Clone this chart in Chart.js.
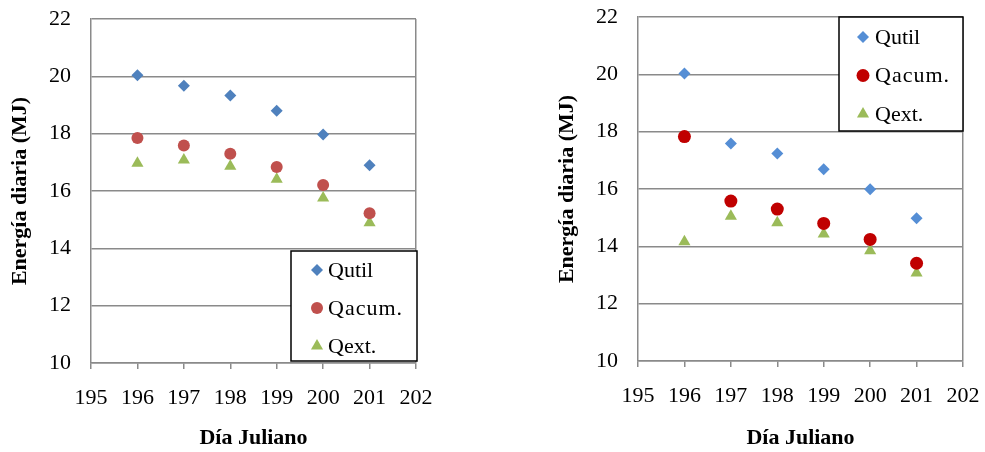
<!DOCTYPE html>
<html><head><meta charset="utf-8">
<script src="https://cdn.jsdelivr.net/npm/chart.js@4/dist/chart.umd.min.js"></script>
<style>
html,body{margin:0;padding:0;background:#fff;}
#wrap{position:relative;width:985px;height:452px;overflow:hidden;}
#c1{position:absolute;left:0;top:0;}
#c2{position:absolute;left:540px;top:0;}
</style></head><body>
<div id="wrap">
<canvas id="c1" width="440" height="452"></canvas>
<canvas id="c2" width="445" height="452"></canvas>
</div>
<script>
// ---- data ----
const days = [196, 197, 198, 199, 200, 201];
const xTickValues = [195, 196, 197, 198, 199, 200, 201, 202];
const yTickValues = [10, 12, 14, 16, 18, 20, 22];
const seriesNames = ['Qutil', 'Qacum.', 'Qext.'];
const xTitle = 'Día Juliano';
const yTitle = 'Energía diaria (MJ)';

const leftQutil = [20.04, 19.67, 19.33, 18.80, 17.97, 16.90];
const leftQacum = [17.85, 17.59, 17.30, 16.84, 16.21, 15.22];
const leftQext  = [16.97, 17.08, 16.86, 16.41, 15.76, 14.89];

const rightQutil = [20.03, 17.59, 17.24, 16.69, 15.99, 14.98];
const rightQacum = [17.83, 15.58, 15.30, 14.80, 14.24, 13.41];
const rightQext  = [14.16, 15.05, 14.82, 14.43, 13.85, 13.07];

// ---- helpers ----
const SERIF = '"Liberation Serif", "Times New Roman", serif';
const GRID = '#8a8a8a';

function pts(vals) { return days.map((d, i) => ({ x: d, y: vals[i] })); }

const boxLegend = {
  id: 'boxLegend',
  afterDraw(chart, args, o) {
    const ctx = chart.ctx, ca = chart.chartArea;
    const left = ca.right + o.dx - o.w;
    const top = o.corner === 'br' ? ca.bottom + o.dy - o.h : ca.top + o.dy;
    ctx.save();
    ctx.fillStyle = '#fff';
    ctx.fillRect(left, top, o.w, o.h);
    ctx.strokeStyle = '#000';
    ctx.lineWidth = 1.5;
    ctx.strokeRect(left, top, o.w, o.h);
    ctx.font = '22px ' + SERIF;
    ctx.textBaseline = 'middle';
    ctx.textAlign = 'left';
    chart.data.datasets.forEach((ds, i) => {
      const y = top + o.y0 + i * o.gap;
      const x = left + o.mx;
      ctx.fillStyle = ds.pointBackgroundColor;
      ctx.beginPath();
      const r = o.r[i];
      if (ds.pointStyle === 'rectRot') {
        ctx.moveTo(x, y - r); ctx.lineTo(x + r, y); ctx.lineTo(x, y + r); ctx.lineTo(x - r, y); ctx.closePath();
      } else if (ds.pointStyle === 'circle') {
        ctx.arc(x, y, r, 0, Math.PI * 2);
      } else {
        ctx.moveTo(x, y - r); ctx.lineTo(x + r * 0.866, y + r * 0.5); ctx.lineTo(x - r * 0.866, y + r * 0.5); ctx.closePath();
      }
      ctx.fill();
      ctx.fillStyle = '#000';
      try { ctx.letterSpacing = (i === 1) ? '1px' : '0px'; } catch (e) {}
      ctx.fillText(ds.label, left + o.tx, y + 1);
      try { ctx.letterSpacing = '0px'; } catch (e) {}
    });
    ctx.restore();
  }
};

function makeChart(id, vals, colors, radii, geo, legendOpts) {
  const styles = ['rectRot', 'circle', 'triangle'];
  return new Chart(document.getElementById(id), {
    type: 'scatter',
    data: {
      datasets: seriesNames.map((name, i) => ({
        label: name,
        data: pts(vals[i]),
        pointStyle: styles[i],
        pointRadius: radii[i],
        pointHoverRadius: radii[i],
        pointBackgroundColor: colors[i],
        pointBorderColor: colors[i],
        pointBorderWidth: 0,
        backgroundColor: colors[i],
        borderColor: colors[i],
        showLine: false
      }))
    },
    options: {
      responsive: false,
      devicePixelRatio: 1,
      animation: false,
      layout: { padding: { top: geo.top, right: geo.right, bottom: 0, left: 0 } },
      plugins: {
        legend: { display: false },
        tooltip: { enabled: false },
        boxLegend: legendOpts
      },
      scales: {
        x: {
          type: 'linear',
          min: 195, max: 202,
          afterBuildTicks: s => { s.ticks = xTickValues.map(v => ({ value: v })); },
          afterFit: s => { s.height = geo.xh; s.paddingLeft = 0; s.paddingRight = 0; s.paddingTop = 0; s.paddingBottom = 0; },
          border: { display: true, color: GRID, width: 1.5 },
          grid: {
            drawOnChartArea: true,
            color: c => (c.tick && c.tick.value === 202) ? GRID : 'rgba(0,0,0,0)',
            tickColor: GRID,
            tickLength: 6,
            lineWidth: 1.5
          },
          ticks: { color: '#000', font: { family: SERIF, size: 22 }, padding: 16, maxRotation: 0, autoSkip: false },
          title: { display: true, text: xTitle, color: '#000', font: { family: SERIF, size: 22, weight: 'bold' }, padding: { top: 0, bottom: 0 } }
        },
        y: {
          type: 'linear',
          min: 10, max: 22,
          afterBuildTicks: s => { s.ticks = yTickValues.map(v => ({ value: v })); },
          afterFit: s => { s.width = geo.yw; s.paddingLeft = 0; s.paddingRight = 0; s.paddingTop = 0; s.paddingBottom = 0; },
          border: { display: true, color: GRID, width: 1.5 },
          grid: { color: GRID, lineWidth: 1.5, drawTicks: false },
          ticks: { color: '#000', font: { family: SERIF, size: 22 }, padding: 20 },
          title: { display: true, text: yTitle, color: '#000', font: { family: SERIF, size: 22, weight: 'bold' }, padding: { top: geo.ytp, bottom: 0 } }
        }
      }
    },
    plugins: [boxLegend]
  });
}

makeChart('c1',
  [leftQutil, leftQacum, leftQext],
  ['#4F81BD', '#C0504D', '#9BBB59'],
  [6, 6, 7],
  { top: 19, right: 24, xh: 89, yw: 91, ytp: 7 },
  { corner: 'br', dx: 1, dy: -2, w: 126, h: 110, mx: 26, tx: 37, y0: 19, gap: 38, r: [6, 6, 7] }
);

makeChart('c2',
  [rightQutil, rightQacum, rightQext],
  ['#558ED5', '#C00000', '#9BBB59'],
  [6, 6.5, 7],
  { top: 17, right: 22, xh: 91, yw: 98, ytp: 14 },
  { corner: 'tr', dx: 0, dy: 0, w: 124, h: 114, mx: 24, tx: 36, y0: 20, gap: 38.5, r: [6, 6.5, 7] }
);
</script>
</body></html>
